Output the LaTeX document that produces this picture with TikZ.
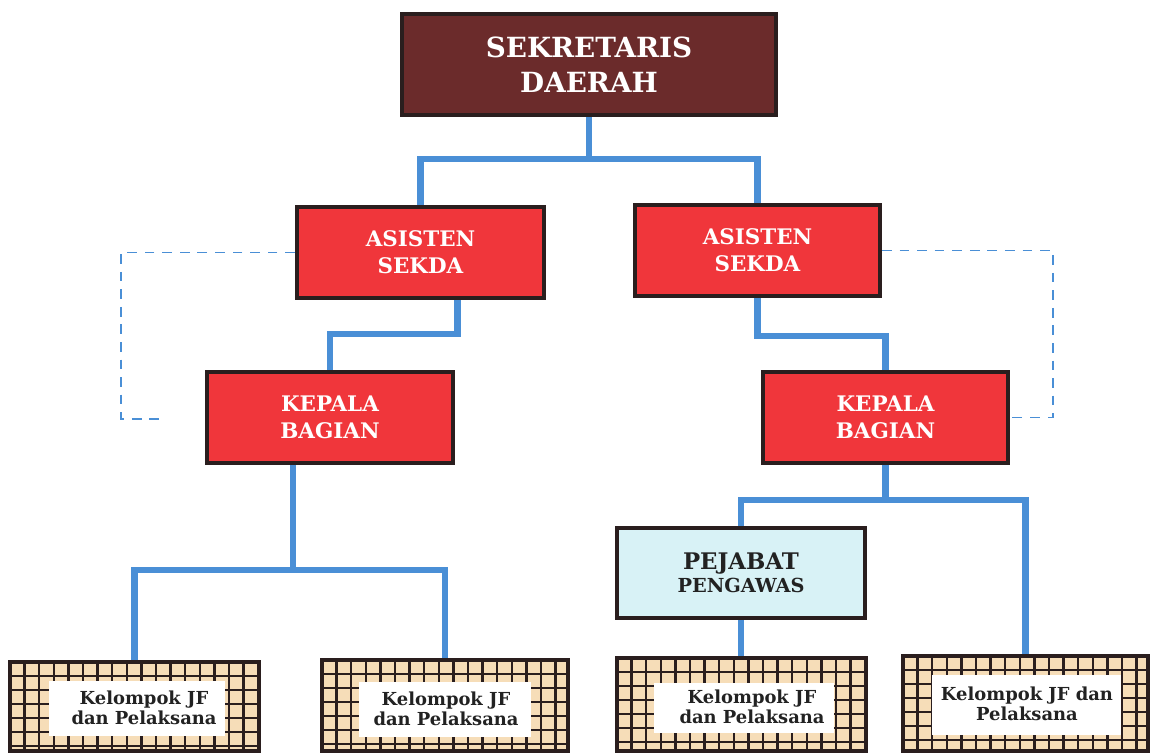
\documentclass[tikz,border=0pt]{standalone}
\usepackage{fontspec}
\setmainfont{DejaVu Serif}
\usetikzlibrary{calc}
\definecolor{maroonbox}{HTML}{6B2B2B}
\definecolor{redbox}{HTML}{F0363B}
\definecolor{cyanbox}{HTML}{D8F2F6}
\definecolor{beige}{HTML}{F6DDB8}
\definecolor{bluelink}{HTML}{4A8FD6}
\definecolor{framedark}{HTML}{2A1E1E}
\definecolor{textdark}{HTML}{222222}
\newcommand{\jfgrid}[4]{%
  \fill[beige] (#1,#2) rectangle (#3,#4);
  \begin{scope}
    \clip (#1,#2) rectangle (#3,#4);
    \foreach \k in {1,...,17} \draw[gridln] ({#1+\k*14.6},#2) -- ({#1+\k*14.6},#4);
    \foreach \k in {1,...,7} \draw[gridln] (#1,{#2+\k*14}) -- (#3,{#2+\k*14});
  \end{scope}}
\tikzset{
  unitbox/.style={draw=framedark, line width=2.3pt, align=center, inner sep=0pt},
  sekbox/.style={unitbox, fill=maroonbox, text=white, font=\bfseries\fontsize{15.8}{20}\selectfont},
  redunit/.style={unitbox, fill=redbox, text=white, font=\bfseries\fontsize{12.2}{15.5}\selectfont},
  pejbox/.style={unitbox, fill=cyanbox, text=textdark},
  jfframe/.style={draw=framedark, line width=2.3pt, inner sep=0pt},
  jfinner/.style={fill=white, inner sep=0pt},
  jftext/.style={text=textdark, align=center, inner sep=0pt, font=\bfseries\fontsize{10.2}{11.2}\selectfont},
  gridln/.style={draw=framedark, line width=1.3pt},
  conn/.style={draw=bluelink, line width=3.9pt},
  dashconn/.style={draw=bluelink, line width=1pt, dash pattern=on 5.5pt off 4.5pt},
}
\begin{document}
\begin{tikzpicture}[x=0.02cm,y=-0.02cm]
\useasboundingbox (0,0) rectangle (1152,753);

% boxes
\node[sekbox, minimum width=7.48cm, minimum height=2.02cm] (sek) at (589,64.5) {SEKRETARIS\\DAERAH};
\node[redunit, minimum width=4.94cm, minimum height=1.82cm] (asL) at (420.5,252.5) {ASISTEN\\SEKDA};
\node[redunit, minimum width=4.90cm, minimum height=1.82cm] (asR) at (757.5,250.5) {ASISTEN\\SEKDA};
\node[redunit, minimum width=4.92cm, minimum height=1.82cm] (kbL) at (330,417.5) {KEPALA\\BAGIAN};
\node[redunit, minimum width=4.90cm, minimum height=1.82cm] (kbR) at (885.5,417.5) {KEPALA\\BAGIAN};
\node[pejbox, minimum width=4.96cm, minimum height=1.80cm] (pej) at (741,573)
  {{\bfseries\fontsize{13}{15}\selectfont PEJABAT}\\[1pt]{\bfseries\fontsize{11}{12}\selectfont PENGAWAS}};

% grid boxes
\jfgrid{10}{662}{259}{751}
\node[jfinner, minimum width=3.52cm, minimum height=1.10cm] (w1) at (137,708.5) {};
\node[jftext] (t1) at (144,708) {Kelompok JF\\dan Pelaksana};
\node[jfframe, minimum width=4.98cm, minimum height=1.78cm] (b1) at (134.5,706.5) {};

\jfgrid{322}{660}{568}{751}
\node[jfinner, minimum width=3.44cm, minimum height=1.10cm] (w2) at (445,709.5) {};
\node[jftext] (t2) at (446,709) {Kelompok JF\\dan Pelaksana};
\node[jfframe, minimum width=4.92cm, minimum height=1.82cm] (b2) at (445,705.5) {};

\jfgrid{617}{658}{866}{751}
\node[jfinner, minimum width=3.60cm, minimum height=1.00cm] (w3) at (744,707.5) {};
\node[jftext] (t3) at (752,707) {Kelompok JF\\dan Pelaksana};
\node[jfframe, minimum width=4.98cm, minimum height=1.86cm] (b3) at (741.5,704.5) {};

\jfgrid{903}{656}{1148}{751}
\node[jfinner, minimum width=3.78cm, minimum height=1.20cm] (w4) at (1026.5,705) {};
\node[jftext] (t4) at (1027,704) {Kelompok JF dan\\Pelaksana};
\node[jfframe, minimum width=4.90cm, minimum height=1.90cm] (b4) at (1025.5,703.5) {};

% solid connectors
\draw[conn] (sek.south) -- ++(0,42) -| (asL.north);
\draw[conn] (sek.south) -- ++(0,42) -| (asR.north);
\draw[conn] ($(asL.south)+(37,0)$) -- ++(0,34) -| (kbL.north);
\draw[conn] (asR.south) -- ++(0,38) -| (kbR.north);
\draw[conn] ($(kbL.south)+(-37,0)$) -- ++(0,105) -| (b1.north);
\draw[conn] ($(kbL.south)+(-37,0)$) -- ++(0,105) -| (b2.north);
\draw[conn] (kbR.south) -- ++(0,35) -| (pej.north);
\draw[conn] (kbR.south) -- ++(0,35) -| (b4.north);
\draw[conn] (pej.south) -- (pej.south |- b3.north);

% dashed connectors
\coordinate (dl) at (165,419);
\draw[dashconn] (asL.west) -- (121,252.5) |- (dl);
\draw[dashconn] (asR.east) -- (1053,250.5) |- (kbR.east);
\end{tikzpicture}
\end{document}
